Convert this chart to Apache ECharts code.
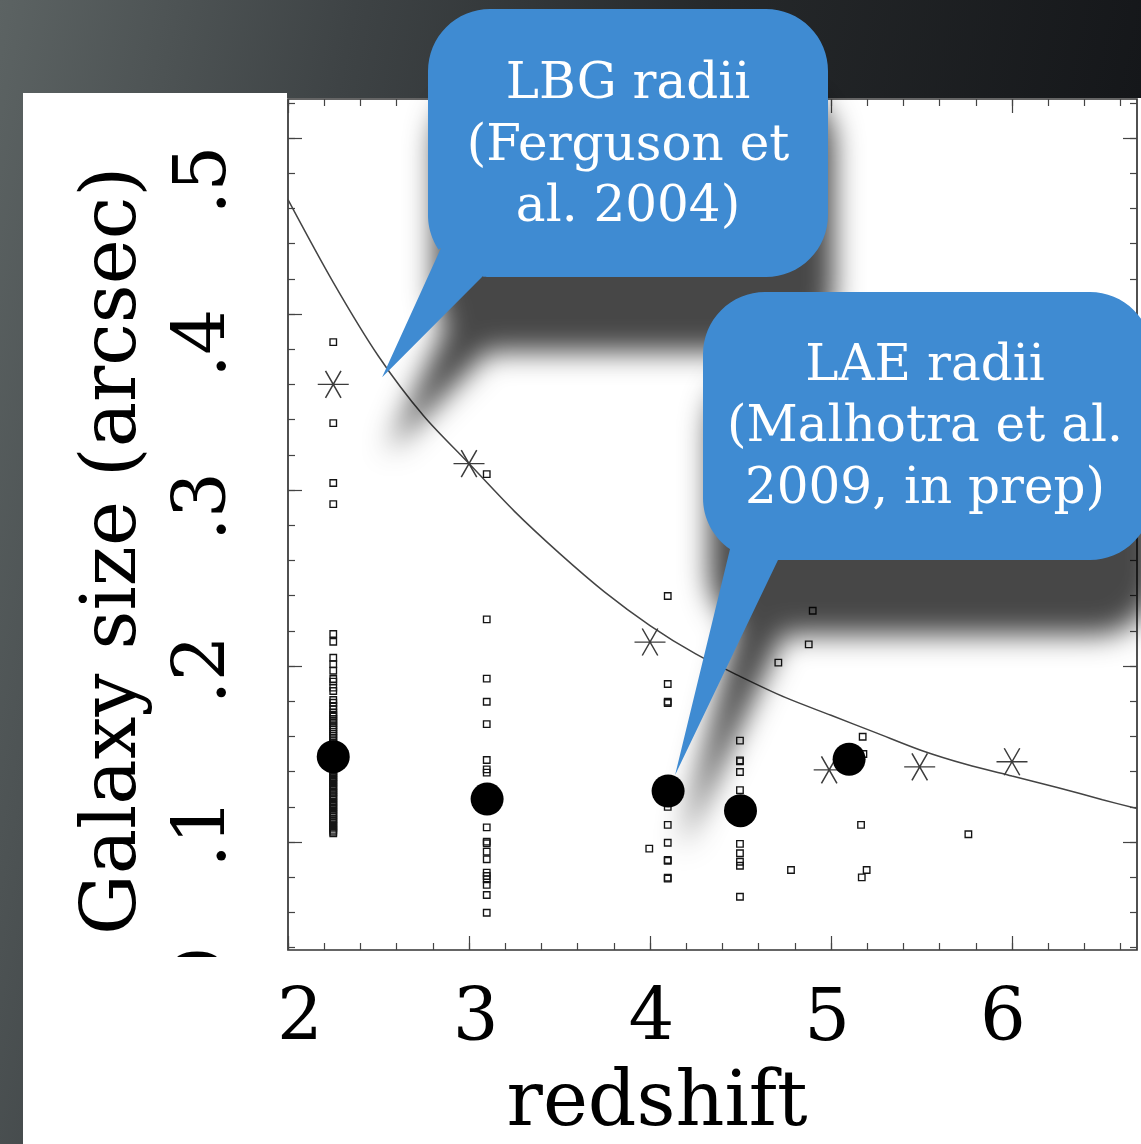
<!DOCTYPE html>
<html>
<head>
<meta charset="utf-8">
<title>Galaxy size vs redshift</title>
<script src="https://cdn.jsdelivr.net/npm/echarts@6/dist/echarts.min.js"></script>
<style>
  html, body { margin: 0; padding: 0; background: #1c1e20; }
  #chart { width: 1141px; height: 1144px; }
</style>
</head>
<body>
<div id="chart"></div>
<script>
// ---------------- data ----------------
const xTickLabels = ['2', '3', '4', '5', '6'];
const yTickLabels = ['.1', '.2', '.3', '.4', '.5'];

// LBG size-evolution curve (Ferguson et al. 2004)
const curveZ = [2.0, 2.25, 2.5, 2.75, 3.0, 3.25, 3.5, 3.75, 4.0, 4.25, 4.5, 4.75, 5.0, 5.25, 5.5, 5.75, 6.0, 6.25, 6.5, 6.69];
const curveR = [0.465, 0.418, 0.376, 0.342, 0.315, 0.288, 0.264, 0.242, 0.223, 0.207, 0.194, 0.182, 0.172, 0.162, 0.152, 0.144, 0.1375, 0.131, 0.124, 0.119];

// LBG median radii (asterisks)
const lbgZ = [2.25, 3.0, 4.0, 4.99, 5.49, 6.0];
const lbgR = [0.360, 0.315, 0.2136, 0.141, 0.1427, 0.1456];

// LAE mean radii (filled circles)
const laeMeanZ = [2.25, 3.1, 4.1, 4.5, 5.1];
const laeMeanR = [0.1485, 0.1244, 0.129, 0.1178, 0.147];

// individual LAE radii (open squares), grouped by sample redshift
const laeZ225 = 2.25;
const laeR225 = [0.1049, 0.1058, 0.1069, 0.1080, 0.1091, 0.1100, 0.1112, 0.1124, 0.1133, 0.1145,
                 0.1156, 0.1167, 0.1178, 0.1189, 0.1198, 0.1210, 0.1222, 0.1231, 0.1243, 0.1254,
                 0.1265, 0.1276, 0.1285, 0.1297, 0.1308, 0.1318, 0.1330, 0.1341, 0.1352, 0.1363,
                 0.1371, 0.1384, 0.1395, 0.1406, 0.1418, 0.1428, 0.1440, 0.1452, 0.1463, 0.1474,
                 0.1486, 0.1497, 0.1509, 0.1520, 0.1532, 0.1543, 0.1555, 0.1564, 0.1577, 0.1591,
                 0.1603, 0.1614, 0.1627, 0.1640, 0.1652, 0.1663, 0.1676, 0.1689, 0.1700, 0.1712,
                 0.1723, 0.1735, 0.1754, 0.1773, 0.1791, 0.1807, 0.1858, 0.1877, 0.1911, 0.1926,
                 0.1973, 0.2011, 0.2047, 0.2138, 0.2182, 0.292, 0.304, 0.338, 0.384];
const laeZ310 = 3.098;
const laeR310 = [0.309, 0.2265, 0.1928, 0.1797, 0.1670, 0.1466, 0.1413, 0.1394, 0.1083, 0.1002,
                 0.0993, 0.0945, 0.0902, 0.0826, 0.0807, 0.0788, 0.0756, 0.0699, 0.0598];
const laeZ410 = 4.098;
const laeR410 = [0.2398, 0.1898, 0.1797, 0.1790, 0.1200, 0.1097, 0.0996, 0.0898, 0.0893, 0.0797, 0.0792];
const laeZ450 = 4.497;
const laeR450 = [0.1576, 0.1464, 0.1458, 0.1398, 0.1295, 0.0989, 0.0936, 0.0888, 0.0865, 0.0689];
const laeScattered = [[3.996, 0.0962], [4.709, 0.2019], [4.779, 0.0841], [4.877, 0.2123], [4.899, 0.2314],
                      [5.166, 0.1097], [5.17, 0.0799], [5.175, 0.1598], [5.179, 0.150], [5.197, 0.0841],
                      [5.759, 0.1044]];

// point on the curve the LBG callout points at
const lbgPointer = [2.52, 0.364];

// ---------------- layout ----------------
const FONT = '"DejaVu Serif", "Liberation Serif", serif';
const PLOT = { left: 288, top: 99, right: 1137, bottom: 950 };
const PX_Z = 181;        // pixels per unit redshift
const PX_R = 1760;       // pixels per arcsec
const Z_LEFT = 2;
const R_REF = 0.1, R_REF_PX = 842;
const zMax = Z_LEFT + (PLOT.right - PLOT.left) / PX_Z;
const rMin = R_REF - (PLOT.bottom - R_REF_PX) / PX_R;
const rMax = R_REF + (R_REF_PX - PLOT.top) / PX_R;
const rToPx = r => R_REF_PX - (r - R_REF) * PX_R;

const TICK_COLOR = '#444';

function hiddenAxis(grid) {
  return { type: 'value', gridIndex: grid, show: false, min: 0, max: 1 };
}
function tickAxis(grid, position, min, max, interval, len) {
  return {
    type: 'value', gridIndex: grid, position, min, max, interval,
    axisLine: { show: false, onZero: false },
    axisLabel: { show: false },
    splitLine: { show: false },
    axisTick: { show: true, inside: true, length: len, lineStyle: { color: TICK_COLOR, width: 1.2 } }
  };
}

const grids = [
  // 0: data frame
  { left: PLOT.left, top: PLOT.top, width: PLOT.right - PLOT.left, height: PLOT.bottom - PLOT.top,
    show: true, backgroundColor: '#ffffff', borderColor: '#333', borderWidth: 1.7, containLabel: false },
  // 1: minor redshift ticks
  { left: PLOT.left, top: PLOT.top, width: 4.6 * PX_Z, height: PLOT.bottom - PLOT.top },
  // 2: major redshift ticks
  { left: PLOT.left, top: PLOT.top, width: 4 * PX_Z, height: PLOT.bottom - PLOT.top },
  // 3: minor size ticks
  { left: PLOT.left, top: rToPx(0.52), width: PLOT.right - PLOT.left, height: rToPx(0.04) - rToPx(0.52) },
  // 4: major size ticks
  { left: PLOT.left, top: rToPx(0.5), width: PLOT.right - PLOT.left, height: rToPx(0.1) - rToPx(0.5) },
  // 5: redshift tick labels
  { left: 300, top: 900, width: 703, height: 70 },
  // 6: size tick labels
  { left: PLOT.left, top: 180, width: 100, height: 653 }
];

const xAxes = [
  { type: 'value', gridIndex: 0, show: false, min: Z_LEFT, max: zMax },
  tickAxis(1, 'bottom', 2, 6.6, 0.2, 7),
  tickAxis(1, 'top', 2, 6.6, 0.2, 7),
  tickAxis(2, 'bottom', 2, 6, 1, 14),
  tickAxis(2, 'top', 2, 6, 1, 14),
  hiddenAxis(3),
  hiddenAxis(4),
  {
    type: 'value', gridIndex: 5, min: 2, max: 6, interval: 1,
    axisLine: { show: false }, axisTick: { show: false }, splitLine: { show: false },
    axisLabel: {
      show: true, margin: 15, color: '#000', fontFamily: FONT, fontSize: 72,
      formatter: v => xTickLabels[Math.round(v - 2)]
    }
  },
  hiddenAxis(6)
];

const yAxes = [
  { type: 'value', gridIndex: 0, show: false, min: rMin, max: rMax },
  hiddenAxis(1),
  hiddenAxis(2),
  tickAxis(3, 'left', 0.04, 0.52, 0.02, 7),
  tickAxis(3, 'right', 0.04, 0.52, 0.02, 7),
  tickAxis(4, 'left', 0.1, 0.5, 0.1, 14),
  tickAxis(4, 'right', 0.1, 0.5, 0.1, 14),
  hiddenAxis(5),
  {
    type: 'value', gridIndex: 6, position: 'left', min: 0.1, max: 0.5, interval: 0.1,
    axisLine: { show: false }, axisTick: { show: false }, splitLine: { show: false },
    axisLabel: {
      show: true, rotate: 90, margin: 46, color: '#000', fontFamily: FONT, fontSize: 72,
      formatter: v => yTickLabels[Math.round(v * 10) - 1]
    }
  }
];

// six-armed asterisk
const STAR = 'path://M0,50L100,50M25,6.7L75,93.3M75,6.7L25,93.3';

const laeSquares = []
  .concat(laeR225.map(r => [laeZ225, r]))
  .concat(laeR310.map(r => [laeZ310, r]))
  .concat(laeR410.map(r => [laeZ410, r]))
  .concat(laeR450.map(r => [laeZ450, r]))
  .concat(laeScattered);

const series = [
  {
    name: 'LBG size evolution', type: 'line', xAxisIndex: 0, yAxisIndex: 0,
    data: curveZ.map((z, i) => [z, curveR[i]]),
    smooth: 0.3, showSymbol: false, symbol: 'none',
    lineStyle: { color: '#444', width: 1.5 }, z: 2, silent: true
  },
  {
    name: 'LAE', type: 'scatter', xAxisIndex: 0, yAxisIndex: 0,
    data: laeSquares, symbol: 'rect', symbolSize: 6.5,
    itemStyle: { color: 'rgba(0,0,0,0)', borderColor: '#141414', borderWidth: 1.35, opacity: 1 },
    z: 3, silent: true
  },
  {
    name: 'LBG', type: 'scatter', xAxisIndex: 0, yAxisIndex: 0,
    data: lbgZ.map((z, i) => [z, lbgR[i]]), symbol: STAR, symbolSize: [31, 27],
    itemStyle: { color: 'rgba(0,0,0,0)', borderColor: '#3c3c3c', borderWidth: 1.4, opacity: 1 },
    z: 4, silent: true
  },
  {
    name: 'LAE mean', type: 'scatter', xAxisIndex: 0, yAxisIndex: 0,
    data: laeMeanZ.map((z, i) => [z, laeMeanR[i]]), symbol: 'circle', symbolSize: 33,
    itemStyle: { color: '#000', opacity: 1 }, z: 5, silent: true
  }
];

const chart = echarts.init(document.getElementById('chart'), null, { renderer: 'canvas', width: 1141, height: 1144 });
chart.setOption({
  animation: false,
  grid: grids,
  xAxis: xAxes,
  yAxis: yAxes,
  series: series
});

// ---------------- slide decoration & callouts ----------------
function bubbleOutline(box, r, tailB, tip, tailA) {
  const pts = [];
  const arc = (cx, cy, a0, a1) => {
    const n = 16;
    for (let i = 0; i <= n; i++) {
      const a = (a0 + (a1 - a0) * i / n) * Math.PI / 180;
      pts.push([cx + r * Math.cos(a), cy + r * Math.sin(a)]);
    }
  };
  arc(box.x0 + r, box.y0 + r, 180, 270);
  arc(box.x1 - r, box.y0 + r, 270, 360);
  arc(box.x1 - r, box.y1 - r, 0, 90);
  // lower-left corner carries the pointer
  const cx = box.x0 + r, cy = box.y1 - r;
  const ang = p => Math.atan2(p[1] - cy, p[0] - cx) * 180 / Math.PI;
  const aB = tailB[0] < cx ? ang(tailB) : 90;
  const aA = tailA[1] > cy ? ang(tailA) : 180;
  if (aB > 90) arc(cx, cy, 90, aB);
  pts.push(tailB, tip, tailA);
  if (aA < 180) arc(cx, cy, aA, 180);
  return pts;
}

const toPx = p => chart.convertToPixel({ xAxisIndex: 0, yAxisIndex: 0 }, p);
const lbgTip = toPx(lbgPointer);
const laeTarget = toPx([laeMeanZ[2], laeMeanR[2]]);
const laeTip = [laeTarget[0] + 7, laeTarget[1] - 16];

const BLUE = '#3f8bd2';
const bubbleStyle = {
  fill: BLUE,
  shadowBlur: 28, shadowColor: 'rgba(0,0,0,0.72)', shadowOffsetX: 6, shadowOffsetY: 75
};
const bubbleText = (text, x, y) => ({
  type: 'text', x, y, z: 61, silent: true,
  style: { text, fill: '#ffffff', fontSize: 50, fontFamily: FONT, align: 'center', verticalAlign: 'middle' }
});

chart.setOption({
  graphic: { elements: [
    { type: 'rect', z: -30, silent: true, shape: { x: 0, y: 0, width: 1141, height: 1144 },
      style: { fill: new echarts.graphic.LinearGradient(0, 0, 1, 0.2, [
        { offset: 0, color: '#5c6363' }, { offset: 0.3, color: '#3e4345' },
        { offset: 0.6, color: '#26292b' }, { offset: 1, color: '#141619' }]) } },
    // white slide panel behind the plot
    { type: 'rect', z: -29, silent: true, shape: { x: 23, y: 93, width: 264, height: 1051 }, style: { fill: '#ffffff' } },
    { type: 'rect', z: -29, silent: true, shape: { x: 23, y: 98, width: 1118, height: 1046 }, style: { fill: '#ffffff' } },
    // zero label of the original axis, mostly covered by the panel below
    { type: 'text', z: -28, silent: true, x: 204, y: 968, rotation: Math.PI / 2,
      style: { text: '0', fill: '#000', fontSize: 66, fontFamily: FONT, align: 'center', verticalAlign: 'middle' } },
    { type: 'rect', z: -27, silent: true, shape: { x: 23, y: 957, width: 262, height: 187 }, style: { fill: '#ffffff' } },
    // axis titles
    { type: 'text', z: 10, silent: true, x: 115, y: 551, rotation: Math.PI / 2,
      style: { text: 'Galaxy size (arcsec)', fill: '#000', fontSize: 76, fontFamily: FONT, align: 'center', verticalAlign: 'middle' } },
    { type: 'text', z: 10, silent: true, x: 657, y: 1105,
      style: { text: 'redshift', fill: '#000', fontSize: 76, fontFamily: FONT, align: 'center', verticalAlign: 'middle' } },
    // LBG callout
    { type: 'polygon', z: 60, silent: true,
      shape: { points: bubbleOutline({ x0: 428, y0: 9, x1: 828, y1: 277 }, 62, [482, 277], lbgTip, [441, 248]) },
      style: bubbleStyle },
    bubbleText('LBG radii', 628, 85),
    bubbleText('(Ferguson et', 628, 147),
    bubbleText('al. 2004)', 628, 208),
    // LAE callout
    { type: 'polygon', z: 60, silent: true,
      shape: { points: bubbleOutline({ x0: 703, y0: 292, x1: 1152, y1: 560 }, 62, [778, 560], laeTip, [730, 549]) },
      style: bubbleStyle },
    bubbleText('LAE radii', 925, 367),
    bubbleText('(Malhotra et al.', 925, 428),
    bubbleText('2009, in prep)', 925, 490)
  ] }
});
</script>
</body>
</html>
